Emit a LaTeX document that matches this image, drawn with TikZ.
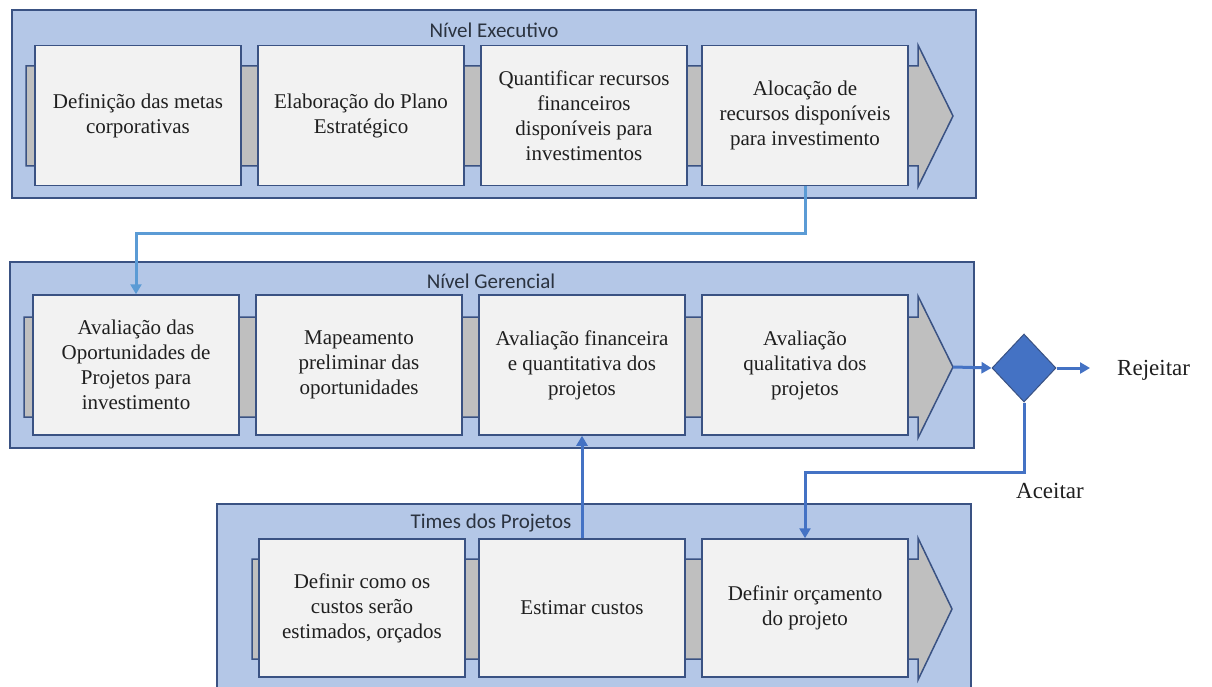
\documentclass[tikz,border=0pt]{standalone}
\usepackage{fontspec}
\setmainfont{Liberation Serif}
\newfontfamily\titlefont{Carlito}
\newfontfamily\boxfont{Liberation Serif}
\usetikzlibrary{arrows.meta,shapes.geometric}

\definecolor{panelfill}{HTML}{B4C7E7}
\definecolor{paneldraw}{HTML}{3A5283}
\definecolor{boxfill}{HTML}{F2F2F2}
\definecolor{barfill}{HTML}{BFBFBF}
\definecolor{linkblue}{HTML}{4472C4}
\definecolor{lightlink}{HTML}{5B9BD5}
\definecolor{textdark}{HTML}{1F1F1F}
\definecolor{titledark}{HTML}{2B3340}

\tikzset{
  panel/.style={fill=panelfill, draw=paneldraw, line width=1.5pt},
  paneltitle/.style={font=\titlefont\fontsize{21}{24}\selectfont, text=titledark, inner sep=0pt},
  procbar/.style={fill=barfill, draw=paneldraw, line width=1.5pt, line join=miter},
  stepbox/.style={rectangle, fill=boxfill, draw=paneldraw, line width=1.5pt,
    minimum width=206pt, minimum height=140pt, inner sep=2pt,
    align=center, text=textdark, font=\boxfont\fontsize{21}{25}\selectfont},
  link/.style={draw=linkblue, line width=3pt, -{Triangle[length=10pt,width=11pt]}},
  lightarrow/.style={draw=lightlink, line width=3pt, -{Triangle[length=10pt,width=11pt]}},
  decision/.style={diamond, fill=linkblue, draw=paneldraw, line width=1pt,
    minimum width=64pt, minimum height=68pt, inner sep=0pt},
  outcome/.style={text=textdark, font=\boxfont\fontsize{23}{27}\selectfont, inner sep=0pt}
}

\begin{document}
\begin{tikzpicture}[x=1pt, y=-1pt]
  \path[use as bounding box, clip] (0,0) rectangle (1212,687);
  \fill[white] (0,0) rectangle (1212,687);

  % ---------- Nivel Executivo ----------
  \draw[panel] (12,10) rectangle (976,198);
  \node[paneltitle] (t1) at (494,30) {Nível Executivo};
  \draw[procbar] (26,66) -- (918,66) -- (918,45) -- (953,116) -- (918,187)
    -- (918,166) -- (26,166) -- cycle;
  \node[stepbox] (p1b1) at (138,115.5) {Definição das metas\\corporativas};
  \node[stepbox] (p1b2) at (361,115.5) {Elaboração do Plano\\Estratégico};
  \node[stepbox] (p1b3) at (584,115.5) {Quantificar recursos\\financeiros\\disponíveis para\\investimentos};
  \node[stepbox] (p1b4) at (805,115.5) {Alocação de\\recursos disponíveis\\para investimento};

  % ---------- Nivel Gerencial ----------
  \draw[panel] (10,262) rectangle (974,448);
  \node[paneltitle] (t2) at (491,281) {Nível Gerencial};
  \draw[procbar] (24,317) -- (918,317) -- (918,296) -- (953,367) -- (918,438)
    -- (918,417) -- (24,417) -- cycle;
  \coordinate (tip2) at (953,367);
  \node[stepbox] (p2b1) at (136,365) {Avaliação das\\Oportunidades de\\Projetos para\\investimento};
  \node[stepbox] (p2b2) at (359,365) {Mapeamento\\preliminar das\\oportunidades};
  \node[stepbox] (p2b3) at (582,365) {Avaliação financeira\\e quantitativa dos\\projetos};
  \node[stepbox] (p2b4) at (805,365) {Avaliação\\qualitativa dos\\projetos};

  % ---------- Times dos Projetos ----------
  \draw[panel] (217,504) rectangle (971,720);
  \node[paneltitle] (t3) at (491,523) {Times dos Projetos};
  \draw[procbar] (252,559) -- (918,559) -- (918,538) -- (952,609) -- (918,680)
    -- (918,659) -- (252,659) -- cycle;
  \node[stepbox, minimum height=138pt] (p3b1) at (362,608) {Definir como os\\custos serão\\estimados, orçados};
  \node[stepbox, minimum height=138pt] (p3b2) at (582,608) {Estimar custos};
  \node[stepbox, minimum height=138pt] (p3b3) at (805,608) {Definir orçamento\\do projeto};

  % ---------- decision ----------
  \node[decision] (dec) at (1024,368) {};
  \coordinate (rej) at (1090,368);
  \coordinate (acc) at (1024,472);
  \node[outcome, anchor=west] (lrej) at (1117,370) {Rejeitar};
  \node[outcome] (lacc) at (1050,491) {Aceitar};

  % ---------- connectors ----------
  \draw[lightarrow] (p1b4.south) -- ++(0,47) -| (p2b1.north);
  \draw[link] (p3b2.north) -- (p2b3.south);
  \draw[link] (tip2) -- (dec.west);
  \draw[link] (dec.east) -- (rej);
  \draw[link] (dec.south) -- (acc) -| (p3b3.north);
\end{tikzpicture}
\end{document}
